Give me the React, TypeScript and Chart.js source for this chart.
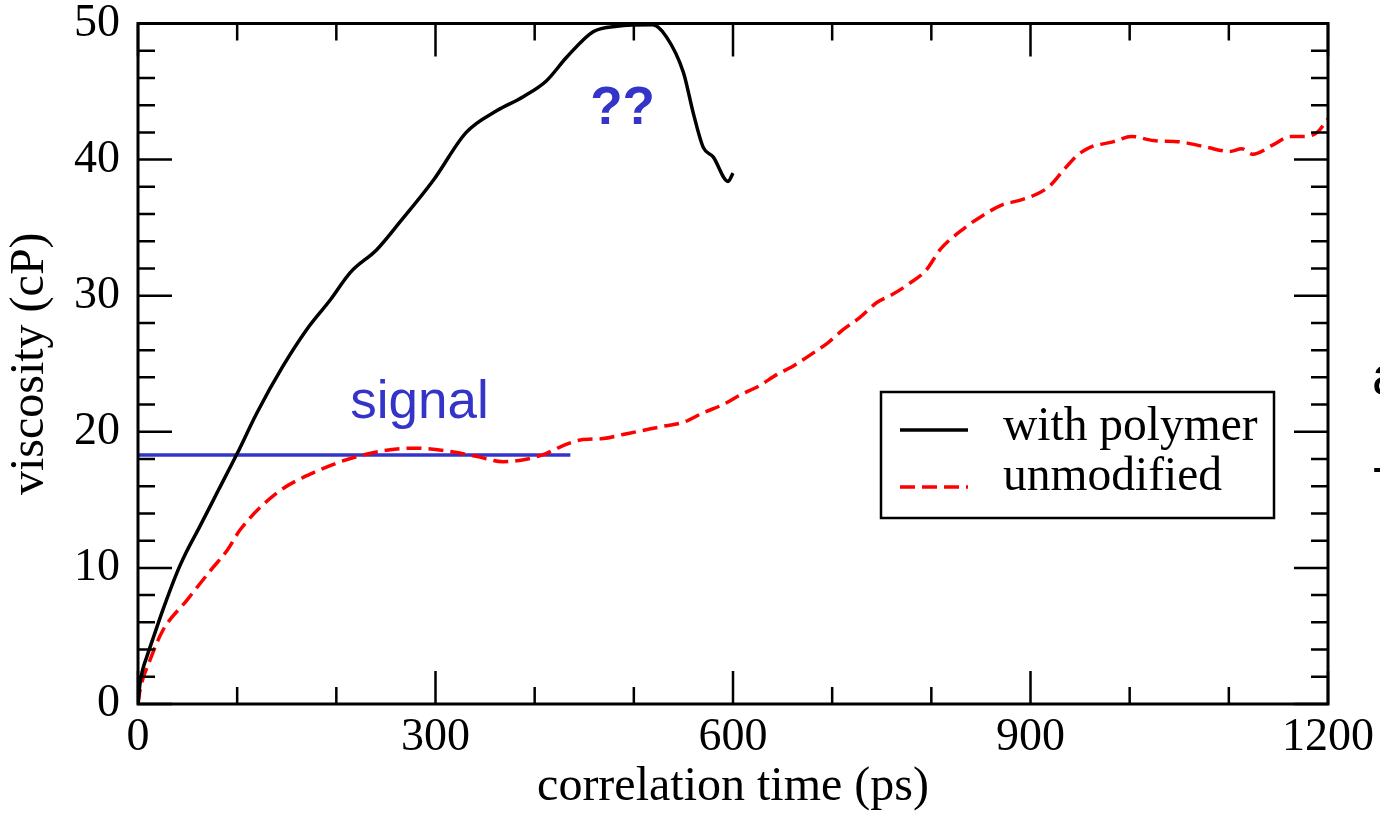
import React, { useEffect, useRef } from "react";
import { Chart, registerables } from "chart.js";

Chart.register(...registerables);

// ---- data ----
const polymerX = [0, 2, 5, 9, 16, 25, 39, 49, 62, 81, 100, 120, 146, 170, 194, 214, 241, 264, 298, 331, 362, 388, 412, 432, 459, 483, 519, 533, 550, 560, 570, 580, 595, 600];
const polymerY = [0, 1.5, 2.6, 3.5, 5.0, 6.9, 9.6, 11.2, 13.0, 15.7, 18.4, 21.4, 24.8, 27.5, 29.7, 31.7, 33.4, 35.4, 38.5, 42.0, 43.6, 44.6, 45.8, 47.5, 49.4, 49.8, 49.9, 49.0, 46.4, 43.4, 40.9, 40.2, 38.4, 39.0];

const unmodX = [0, 2, 12, 25, 49, 73, 90, 103, 140, 177, 227, 277, 311, 341, 368, 408, 426, 446, 469, 489, 509, 529, 550, 570, 590, 607, 627, 644, 660, 681, 695, 711, 728, 745, 761, 778, 795, 809, 834, 852, 872, 889, 910, 920, 933, 947, 960, 983, 1002, 1024, 1051, 1078, 1101, 1113, 1124, 1145, 1162, 1175, 1189, 1200];
const unmodY = [0, 1.0, 3.2, 5.4, 7.6, 9.8, 11.3, 12.8, 15.5, 17.0, 18.3, 18.8, 18.6, 18.2, 17.8, 18.3, 18.9, 19.4, 19.5, 19.8, 20.1, 20.4, 20.7, 21.4, 22.0, 22.7, 23.4, 24.2, 24.8, 25.8, 26.5, 27.5, 28.4, 29.5, 30.1, 30.9, 31.9, 33.4, 35.0, 35.9, 36.7, 37.0, 37.6, 38.1, 39.2, 40.3, 40.9, 41.3, 41.7, 41.4, 41.3, 40.9, 40.6, 40.8, 40.4, 41.1, 41.7, 41.7, 42.0, 43.0];

const signalX = [0, 436];
const signalY = [18.3, 18.3];

const seriesLabels = ["with polymer", "unmodified"];
const xTitle = "correlation time (ps)";
const yTitle = "viscosity (cP)";
const signalText = "signal";
const signalTextPos = [214, 21.0];
const questionText = "??";
const questionTextPos = [456, 42.6];

const xMin = 0, xMax = 1200, xMajor = 300, xMinor = 100;
const yMin = 0, yMax = 50, yMajor = 10, yMinor = 2;

const BLUE = "#3434c8";
const SERIF = "'Liberation Serif', 'Times New Roman', serif";
const SANS = "'Liberation Sans', Arial, sans-serif";

const toPts = (xs: number[], ys: number[]) => xs.map((x, i) => ({ x, y: ys[i] }));

const framePlugin = {
  id: "frameTicks",
  afterDatasetsDraw(chart: any) {
    const { ctx, chartArea: a, scales } = chart;
    const xs = scales.x, ys = scales.y;
    ctx.save();
    ctx.strokeStyle = "#000";
    ctx.lineWidth = 2.5;
    ctx.beginPath();
    for (let v = xMin; v <= xMax + 1e-9; v += xMinor) {
      const px = xs.getPixelForValue(v);
      const len = Math.abs(v % xMajor) < 1e-9 ? 33 : 17;
      ctx.moveTo(px, a.bottom);
      ctx.lineTo(px, a.bottom - len);
      ctx.moveTo(px, a.top);
      ctx.lineTo(px, a.top + len);
    }
    for (let v = yMin; v <= yMax + 1e-9; v += yMinor) {
      const py = ys.getPixelForValue(v);
      const len = Math.abs(v % yMajor) < 1e-9 ? 34 : 17;
      ctx.moveTo(a.left, py);
      ctx.lineTo(a.left + len, py);
      ctx.moveTo(a.right, py);
      ctx.lineTo(a.right - len, py);
    }
    ctx.stroke();
    ctx.lineWidth = 3;
    ctx.strokeRect(a.left, a.top, a.right - a.left, a.bottom - a.top);

    // annotations
    ctx.fillStyle = BLUE;
    ctx.textBaseline = "alphabetic";
    ctx.textAlign = "left";
    ctx.font = `53px ${SANS}`;
    ctx.fillText(signalText, xs.getPixelForValue(signalTextPos[0]), ys.getPixelForValue(signalTextPos[1]));
    ctx.font = `bold 53px ${SANS}`;
    ctx.fillText(questionText, xs.getPixelForValue(questionTextPos[0]), ys.getPixelForValue(questionTextPos[1]));

    // legend
    const ds = chart.data.datasets;
    const bx = 881, by = 392, bw = 393, bh = 126;
    ctx.fillStyle = "#fff";
    ctx.fillRect(bx, by, bw, bh);
    ctx.strokeStyle = "#000";
    ctx.lineWidth = 2.5;
    ctx.strokeRect(bx, by, bw, bh);
    const rows = [430, 487];
    const baselines = [440, 490];
    ctx.font = `47.5px ${SERIF}`;
    for (let i = 0; i < 2; i++) {
      const d = ds[i];
      ctx.save();
      ctx.strokeStyle = d.borderColor;
      ctx.lineWidth = d.borderWidth;
      ctx.setLineDash(d.borderDash || []);
      ctx.beginPath();
      ctx.moveTo(900, rows[i]);
      ctx.lineTo(968, rows[i]);
      ctx.stroke();
      ctx.restore();
      ctx.fillStyle = "#000";
      ctx.fillText(d.label, 1003, baselines[i]);
    }

    // cropped slide text at the right edge
    ctx.fillStyle = "#000";
    ctx.font = `53px ${SANS}`;
    ctx.fillText("a", 1372, 394);
    ctx.fillText("T", 1373, 505);
    ctx.restore();
  },
};

export default function App() {
  const ref = useRef<HTMLCanvasElement | null>(null);
  useEffect(() => {
    if (!ref.current) return;
    const chart = new Chart(ref.current, {
      type: "line",
      data: {
        datasets: [
          {
            label: seriesLabels[0],
            data: toPts(polymerX, polymerY),
            borderColor: "#000",
            borderWidth: 3.5,
            pointRadius: 0,
            cubicInterpolationMode: "monotone",
            fill: false,
          },
          {
            label: seriesLabels[1],
            data: toPts(unmodX, unmodY),
            borderColor: "#ff0000",
            borderWidth: 3.5,
            borderDash: [15, 7],
            pointRadius: 0,
            cubicInterpolationMode: "monotone",
            fill: false,
          },
          {
            label: "signal line",
            data: toPts(signalX, signalY),
            borderColor: BLUE,
            borderWidth: 3.5,
            pointRadius: 0,
            fill: false,
          },
        ],
      },
      options: {
        responsive: false,
        animation: false,
        layout: { padding: { left: 0, right: 52, top: 23.5, bottom: 0 } },
        plugins: { legend: { display: false }, tooltip: { enabled: false } },
        scales: {
          x: {
            type: "linear",
            min: xMin,
            max: xMax,
            grid: { display: false, drawTicks: false },
            border: { display: false },
            ticks: {
              stepSize: xMajor,
              autoSkip: false,
              maxRotation: 0,
              padding: 6,
              color: "#000",
              font: { family: SERIF, size: 46, lineHeight: 1.2 },
              callback: (v: any) => String(v),
            },
            title: {
              display: true,
              text: xTitle,
              color: "#000",
              font: { family: SERIF, size: 48, lineHeight: 1.15 },
              padding: { top: 0, bottom: 0 },
            },
            afterFit: (s: any) => {
              s.height = 111;
              s.paddingLeft = 0;
              s.paddingRight = 0;
            },
          },
          y: {
            type: "linear",
            min: yMin,
            max: yMax,
            grid: { display: false, drawTicks: false },
            border: { display: false },
            ticks: {
              stepSize: yMajor,
              autoSkip: false,
              padding: 18,
              color: "#000",
              font: { family: SERIF, size: 46, lineHeight: 1.2 },
              callback: (v: any) => String(v),
            },
            title: {
              display: true,
              text: yTitle,
              color: "#000",
              font: { family: SERIF, size: 48, lineHeight: 1.15 },
              padding: { top: 3, bottom: 0 },
            },
            afterFit: (s: any) => {
              s.width = 138;
              s.paddingTop = 0;
              s.paddingBottom = 0;
            },
          },
        },
      },
      plugins: [framePlugin],
    } as any);
    return () => chart.destroy();
  }, []);
  return (
    <div style={{ position: "fixed", left: 0, top: 0, width: 1380, height: 815, background: "#fff" }}>
      <canvas ref={ref} width={1380} height={815} style={{ display: "block", width: 1380, height: 815 }} />
    </div>
  );
}
